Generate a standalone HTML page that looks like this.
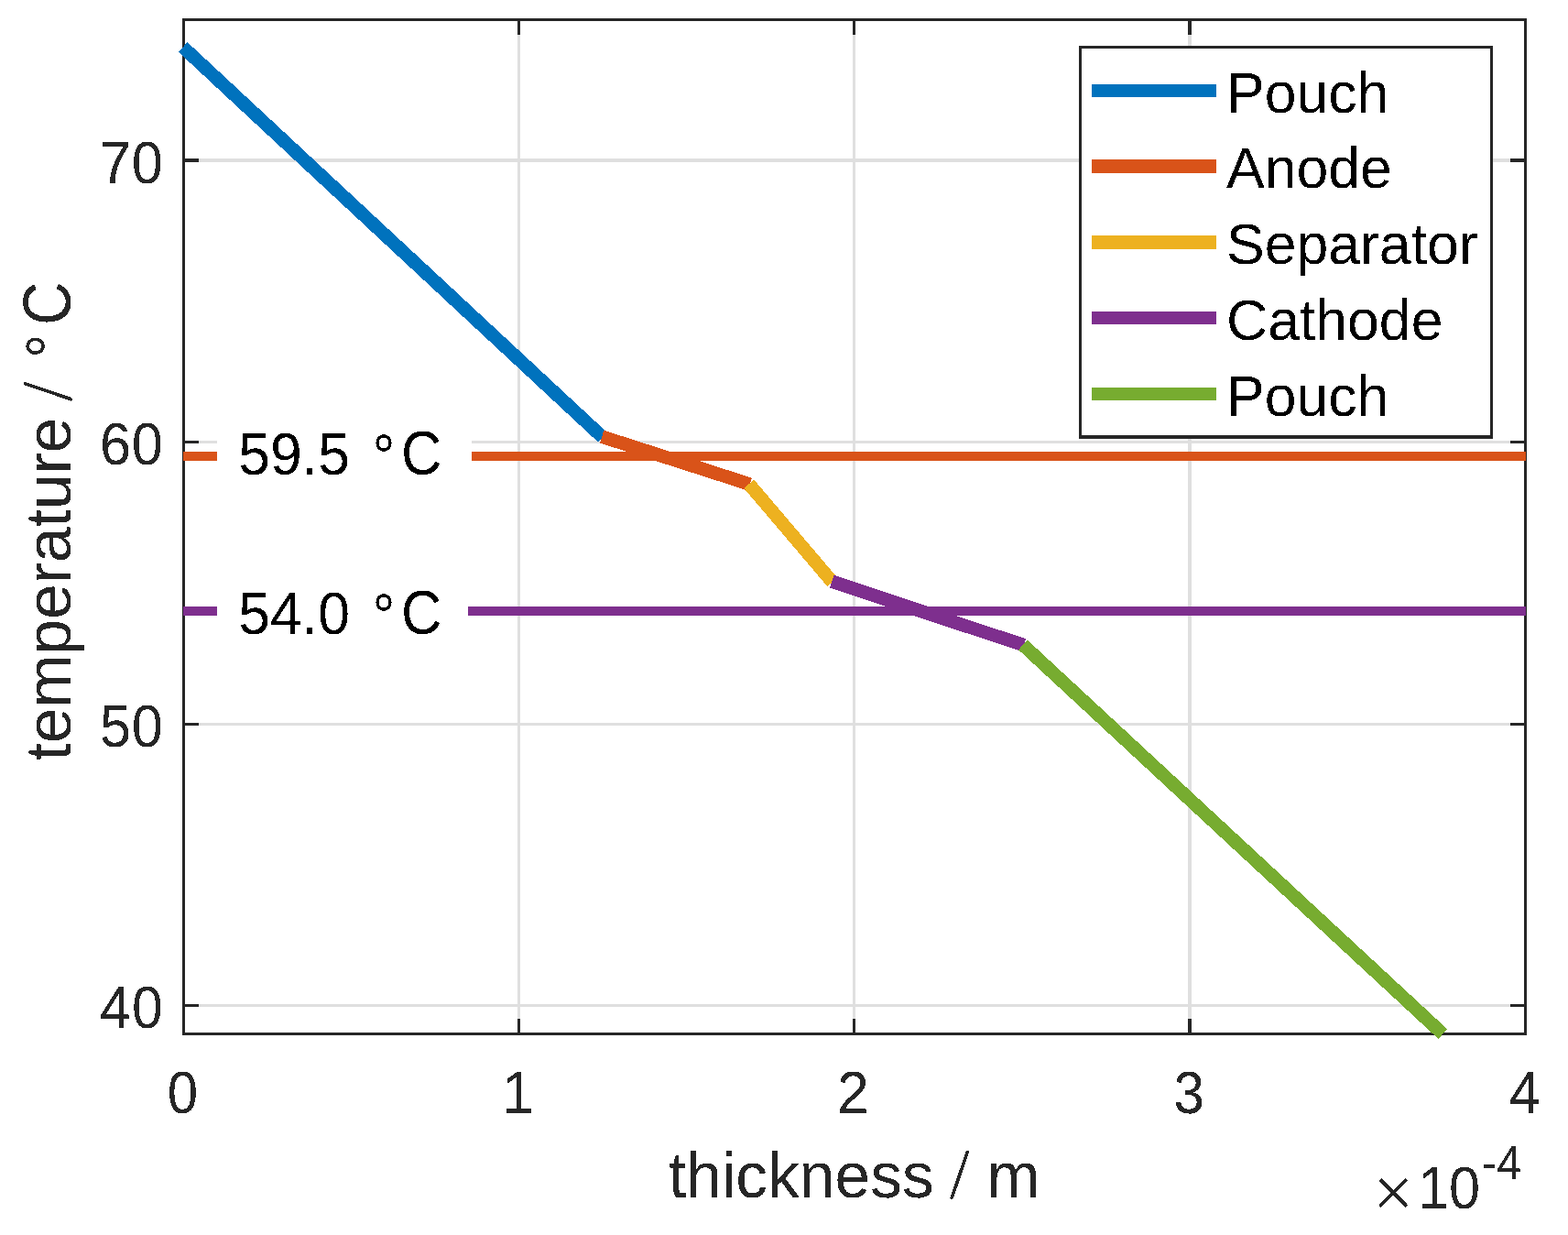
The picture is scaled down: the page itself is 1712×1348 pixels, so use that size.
<!DOCTYPE html>
<html lang="en"><head><meta charset="utf-8"><title>Temperature profile across cell thickness</title>
<style>html,body{margin:0;padding:0;background:#fff}body{width:1712px;height:1348px;overflow:hidden}svg{display:block}text{font-family:'Liberation Sans', sans-serif;white-space:pre;filter:url(#px)}.t{fill:#262626}.k{fill:#000}</style>
</head><body>
<svg width="1712" height="1348" viewBox="0 0 1712 1348">
<defs><filter id="px" x="-5%" y="-5%" width="110%" height="110%" color-interpolation-filters="sRGB"><feComponentTransfer><feFuncA type="discrete" tableValues="0 0 1 1"/></feComponentTransfer></filter></defs>
<rect x="0" y="0" width="1712" height="1348" fill="#ffffff"/>
<g shape-rendering="crispEdges">
<rect x="565" y="20" width="3" height="1110" fill="#dfdfdf"/>
<rect x="931" y="20" width="3" height="1110" fill="#dfdfdf"/>
<rect x="1297" y="20" width="4" height="1110" fill="#dfdfdf"/>
<rect x="199" y="173" width="1468" height="4" fill="#dfdfdf"/>
<rect x="199" y="481" width="1468" height="3" fill="#dfdfdf"/>
<rect x="199" y="789" width="1468" height="3" fill="#dfdfdf"/>
<rect x="199" y="1096" width="1468" height="3" fill="#dfdfdf"/>
<rect x="199" y="20" width="1468" height="3" fill="#262626"/>
<rect x="199" y="1127" width="1468" height="3" fill="#262626"/>
<rect x="199" y="20" width="3" height="1110" fill="#262626"/>
<rect x="1664" y="20" width="3" height="1110" fill="#262626"/>
<rect x="565" y="1112" width="3" height="15" fill="#262626"/>
<rect x="565" y="23" width="3" height="15" fill="#262626"/>
<rect x="931" y="1112" width="3" height="15" fill="#262626"/>
<rect x="931" y="23" width="3" height="15" fill="#262626"/>
<rect x="1297" y="1112" width="4" height="15" fill="#262626"/>
<rect x="1297" y="23" width="4" height="15" fill="#262626"/>
<rect x="202" y="173" width="15" height="4" fill="#262626"/>
<rect x="1649" y="173" width="15" height="4" fill="#262626"/>
<rect x="202" y="481" width="15" height="3" fill="#262626"/>
<rect x="1649" y="481" width="15" height="3" fill="#262626"/>
<rect x="202" y="789" width="15" height="3" fill="#262626"/>
<rect x="1649" y="789" width="15" height="3" fill="#262626"/>
<rect x="202" y="1096" width="15" height="3" fill="#262626"/>
<rect x="1649" y="1096" width="15" height="3" fill="#262626"/>
</g>
<g stroke-width="14.5" stroke-linecap="butt" fill="none" shape-rendering="crispEdges">
<line x1="199.7" y1="51.4" x2="657.86" y2="477.21" stroke="#0072bd"/>
<line x1="657.2" y1="476.6" x2="818.61" y2="528.53" stroke="#d95319"/>
<line x1="817.75" y1="528.25" x2="908.88" y2="635.39" stroke="#edb120"/>
<line x1="908.3" y1="634.7" x2="1117.75" y2="704.18" stroke="#7e2f8e"/>
<line x1="1116.9" y1="703.9" x2="1575.3" y2="1128.6" stroke="#77ac30"/>
</g>
<g shape-rendering="crispEdges">
<rect x="200" y="493" width="1466" height="10" fill="#d95319"/>
<rect x="200" y="662" width="1466" height="10" fill="#7e2f8e"/>
<rect x="237" y="458" width="278" height="80" fill="#ffffff"/>
<rect x="237" y="628" width="274" height="80" fill="#ffffff"/>
</g>
<text class="k" font-size="62.5"><tspan x="260.3" y="518" font-size="64.06" textLength="139.01" lengthAdjust="spacingAndGlyphs">59.5 </tspan><tspan x="406.73 437.98" y="522 518" font-size="68.5" textLength="68.92" lengthAdjust="spacingAndGlyphs">°C</tspan></text>
<text class="k" font-size="62.5"><tspan x="260.3" y="692" font-size="64.06" textLength="139.01" lengthAdjust="spacingAndGlyphs">54.0 </tspan><tspan x="406.73 437.98" y="696 692" font-size="68.5" textLength="68.92" lengthAdjust="spacingAndGlyphs">°C</tspan></text>
<g shape-rendering="crispEdges">
<rect x="1178" y="50" width="452" height="429" fill="#262626"/>
<rect x="1181" y="53" width="446" height="422" fill="#ffffff"/>
<rect x="1192" y="92" width="136" height="14" fill="#0072bd"/>
<rect x="1192" y="174" width="136" height="15" fill="#d95319"/>
<rect x="1192" y="257" width="136" height="15" fill="#edb120"/>
<rect x="1192" y="340" width="136" height="14" fill="#7e2f8e"/>
<rect x="1192" y="423" width="136" height="14" fill="#77ac30"/>
</g>
<text class="k" font-size="62.5"><tspan x="1339.1" y="122.9">Pouch</tspan></text>
<text class="k" font-size="62.5"><tspan x="1339.1" y="205.4">Anode</tspan></text>
<text class="k" font-size="62.5"><tspan x="1339.1" y="288.4">Separator</tspan></text>
<text class="k" font-size="62.5"><tspan x="1339.1" y="370.9">Cathode</tspan></text>
<text class="k" font-size="62.5"><tspan x="1339.1" y="453.9">Pouch</tspan></text>
<text class="t" font-size="62.5"><tspan x="108.95 143.71" y="200" font-size="64.06" textLength="68.13" lengthAdjust="spacingAndGlyphs">70</tspan></text>
<text class="t" font-size="62.5"><tspan x="108.95 143.71" y="507" font-size="64.06" textLength="68.13" lengthAdjust="spacingAndGlyphs">60</tspan></text>
<text class="t" font-size="62.5"><tspan x="108.95 143.71" y="815" font-size="64.06" textLength="68.13" lengthAdjust="spacingAndGlyphs">50</tspan></text>
<text class="t" font-size="62.5"><tspan x="109.12 143.88" y="1122" font-size="64.06" textLength="67.43" lengthAdjust="spacingAndGlyphs">40</tspan></text>
<text class="t" font-size="62.5"><tspan x="182.82" y="1215" font-size="64.06" textLength="33.37" lengthAdjust="spacingAndGlyphs">0</tspan></text>
<text class="t" font-size="62.5"><tspan x="548.27" y="1215" font-size="64.06" textLength="34.76" lengthAdjust="spacingAndGlyphs">1</tspan></text>
<text class="t" font-size="62.5"><tspan x="914.12" y="1215" font-size="64.06" textLength="34.76" lengthAdjust="spacingAndGlyphs">2</tspan></text>
<text class="t" font-size="62.5"><tspan x="1281.49" y="1215" font-size="64.06" textLength="33.37" lengthAdjust="spacingAndGlyphs">3</tspan></text>
<text class="t" font-size="62.5"><tspan x="1647.66" y="1215" font-size="64.06" textLength="34.06" lengthAdjust="spacingAndGlyphs">4</tspan></text>
<text class="t" font-size="62.5"><tspan x="1498.88" y="1328.06" font-size="78.67" font-family="'Liberation Serif', serif">×</tspan><tspan x="1548.36 1582.11" y="1319" font-size="64.06" textLength="68.13" lengthAdjust="spacingAndGlyphs">10</tspan><tspan x="1618.03" y="1286.7" font-size="51.25" textLength="43.12" lengthAdjust="spacingAndGlyphs">-4</tspan></text>
<text class="t" font-size="69.5"><tspan x="729.94" y="1307.1">thickness </tspan><tspan x="1036.9" y="1307.1" font-size="77.3" font-family="'Liberation Serif', serif">/</tspan><tspan x="1058.26" y="1307.1"> m</tspan></text>
<text class="t" font-size="69.5" transform="translate(77 830.45) rotate(-90)"><tspan x="0" y="0">temperature </tspan><tspan x="392.4" y="0" font-size="77.3" font-family="'Liberation Serif', serif">/</tspan><tspan x="420.27 439.58 475.46" y="0 3.47 0" font-size="74.37" textLength="91.96" lengthAdjust="spacingAndGlyphs"> °C</tspan></text>
</svg>
</body></html>
